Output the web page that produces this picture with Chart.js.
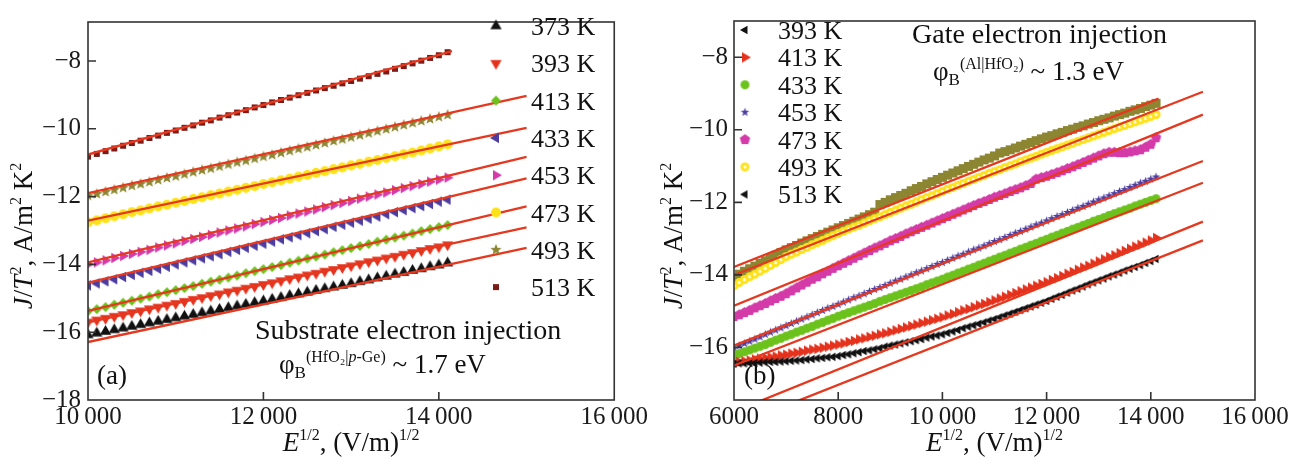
<!DOCTYPE html>
<html>
<head>
<meta charset="utf-8">
<script src="https://cdn.jsdelivr.net/npm/chart.js@4/dist/chart.umd.min.js"></script>
<style>
  body { margin: 0; background: #fff; }
  #wrap { position: relative; width: 1295px; height: 464px; }
  #chartA { position: absolute; left: 0; top: 0; }
  #chartB { position: absolute; left: 650px; top: 0; }
</style>
</head>
<body>
<div id="wrap">
  <canvas id="chartA" width="650" height="464"></canvas>
  <canvas id="chartB" width="645" height="464"></canvas>
</div>
<script>
// ---- (a) substrate injection: E^1/2 grid and ln(J/T^2) per temperature ----
const xA = [10000,10100,10200,10300,10400,10500,10600,10700,10800,10900,11000,11100,11200,11300,11400,11500,11600,11700,11800,11900,12000,12100,12200,12300,12400,12500,12600,12700,12800,12900,13000,13100,13200,13300,13400,13500,13600,13700,13800,13900,14000,14100];

const a373 = [-16.08,-16.03,-15.98,-15.93,-15.88,-15.83,-15.78,-15.73,-15.68,-15.63,-15.58,-15.53,-15.48,-15.43,-15.38,-15.33,-15.28,-15.23,-15.18,-15.13,-15.08,-15.03,-14.98,-14.92,-14.87,-14.82,-14.77,-14.72,-14.67,-14.62,-14.57,-14.51,-14.46,-14.40,-14.35,-14.29,-14.24,-14.18,-14.13,-14.07,-14.02,-13.96];
const a393 = [-15.70,-15.64,-15.59,-15.53,-15.48,-15.42,-15.37,-15.31,-15.26,-15.20,-15.15,-15.09,-15.03,-14.98,-14.92,-14.87,-14.81,-14.76,-14.70,-14.65,-14.59,-14.54,-14.48,-14.42,-14.37,-14.31,-14.26,-14.20,-14.15,-14.09,-14.04,-13.98,-13.92,-13.87,-13.81,-13.76,-13.70,-13.65,-13.59,-13.53,-13.48,-13.42];
const a413 = [-15.38,-15.32,-15.26,-15.19,-15.13,-15.07,-15.01,-14.95,-14.88,-14.82,-14.76,-14.70,-14.64,-14.57,-14.51,-14.45,-14.39,-14.33,-14.26,-14.20,-14.14,-14.08,-14.02,-13.95,-13.89,-13.83,-13.77,-13.71,-13.64,-13.58,-13.52,-13.46,-13.40,-13.33,-13.27,-13.21,-13.15,-13.09,-13.02,-12.96,-12.90,-12.84];
const a433 = [-14.62,-14.56,-14.50,-14.44,-14.37,-14.31,-14.25,-14.19,-14.13,-14.07,-14.00,-13.94,-13.88,-13.82,-13.76,-13.70,-13.63,-13.57,-13.51,-13.45,-13.39,-13.33,-13.26,-13.20,-13.14,-13.08,-13.02,-12.96,-12.89,-12.83,-12.77,-12.71,-12.65,-12.59,-12.52,-12.46,-12.40,-12.34,-12.28,-12.22,-12.15,-12.09];
const a453 = [-14.00,-13.94,-13.88,-13.81,-13.75,-13.69,-13.63,-13.57,-13.50,-13.44,-13.38,-13.31,-13.25,-13.19,-13.13,-13.06,-13.00,-12.94,-12.88,-12.81,-12.75,-12.69,-12.63,-12.56,-12.50,-12.44,-12.38,-12.31,-12.25,-12.19,-12.13,-12.06,-12.00,-11.94,-11.88,-11.81,-11.75,-11.69,-11.63,-11.56,-11.50,-11.44];
const a473 = [-12.76,-12.70,-12.64,-12.58,-12.52,-12.46,-12.41,-12.35,-12.29,-12.24,-12.18,-12.13,-12.07,-12.02,-11.96,-11.91,-11.85,-11.80,-11.74,-11.69,-11.63,-11.58,-11.52,-11.47,-11.41,-11.36,-11.30,-11.25,-11.19,-11.14,-11.08,-11.03,-10.97,-10.92,-10.86,-10.81,-10.75,-10.70,-10.64,-10.58,-10.52,-10.46];
const a493 = [-11.97,-11.92,-11.86,-11.80,-11.74,-11.68,-11.63,-11.57,-11.51,-11.45,-11.40,-11.34,-11.28,-11.22,-11.17,-11.11,-11.05,-10.99,-10.94,-10.88,-10.82,-10.77,-10.71,-10.65,-10.59,-10.54,-10.48,-10.42,-10.36,-10.31,-10.25,-10.19,-10.13,-10.07,-10.01,-9.95,-9.89,-9.83,-9.77,-9.71,-9.65,-9.59];
const a513 = [-10.82,-10.74,-10.66,-10.58,-10.50,-10.42,-10.35,-10.27,-10.20,-10.12,-10.05,-9.97,-9.90,-9.82,-9.75,-9.67,-9.60,-9.52,-9.45,-9.37,-9.30,-9.22,-9.15,-9.08,-9.01,-8.94,-8.87,-8.80,-8.73,-8.66,-8.59,-8.52,-8.45,-8.38,-8.31,-8.23,-8.15,-8.07,-7.99,-7.91,-7.83,-7.74];

// linear fits (373 ... 513 K): start at x = 10000
const fitY0A = [-16.29,-15.71,-15.37,-14.54,-13.94,-12.71,-11.90,-10.76];
const fitX1A = [15000,15000,15000,15000,15000,15000,15000,14150];
const fitY1A = [-13.51,-12.91,-12.29,-11.46,-10.83,-9.97,-9.03,-7.71];

const tempsA = ['373 K','393 K','413 K','433 K','453 K','473 K','493 K','513 K'];
const xTicksA = [10000, 12000, 14000, 16000];
const yTicksA = [-18, -16, -14, -12, -10, -8];

// ---- (b) gate injection ----
const xB = [6000,6100,6200,6300,6400,6500,6600,6700,6800,6900,7000,7100,7200,7300,7400,7500,7600,7700,7800,7900,8000,8100,8200,8300,8400,8500,8600,8700,8800,8900,9000,9100,9200,9300,9400,9500,9600,9700,9800,9900,10000,10100,10200,10300,10400,10500,10600,10700,10800,10900,11000,11100,11200,11300,11400,11500,11600,11700,11800,11900,12000,12100,12200,12300,12400,12500,12600,12700,12800,12900,13000,13100,13200,13300,13400,13500,13600,13700,13800,13900,14000,14100];

const b393 = [-16.45,-16.44,-16.44,-16.43,-16.43,-16.42,-16.41,-16.40,-16.40,-16.39,-16.38,-16.37,-16.36,-16.35,-16.33,-16.32,-16.30,-16.29,-16.27,-16.26,-16.24,-16.21,-16.19,-16.16,-16.13,-16.10,-16.08,-16.05,-16.02,-15.98,-15.95,-15.92,-15.89,-15.86,-15.83,-15.80,-15.77,-15.73,-15.70,-15.67,-15.64,-15.60,-15.56,-15.52,-15.47,-15.43,-15.39,-15.35,-15.31,-15.26,-15.22,-15.17,-15.12,-15.07,-15.02,-14.97,-14.92,-14.87,-14.82,-14.77,-14.72,-14.66,-14.60,-14.55,-14.49,-14.43,-14.38,-14.32,-14.26,-14.21,-14.15,-14.10,-14.04,-13.99,-13.94,-13.88,-13.83,-13.78,-13.73,-13.67,-13.62,-13.56];
const b413 = [-16.42,-16.40,-16.38,-16.36,-16.33,-16.31,-16.29,-16.27,-16.25,-16.22,-16.20,-16.17,-16.15,-16.12,-16.09,-16.06,-16.04,-16.01,-15.98,-15.95,-15.92,-15.89,-15.85,-15.82,-15.78,-15.75,-15.71,-15.68,-15.64,-15.61,-15.57,-15.53,-15.49,-15.45,-15.41,-15.37,-15.33,-15.29,-15.25,-15.21,-15.17,-15.12,-15.08,-15.03,-14.98,-14.94,-14.89,-14.84,-14.80,-14.75,-14.70,-14.65,-14.60,-14.55,-14.50,-14.45,-14.40,-14.35,-14.30,-14.25,-14.20,-14.14,-14.09,-14.03,-13.97,-13.92,-13.86,-13.80,-13.75,-13.69,-13.63,-13.57,-13.51,-13.46,-13.40,-13.34,-13.28,-13.22,-13.17,-13.11,-13.05,-12.98];
const b433 = [-16.22,-16.17,-16.12,-16.07,-16.02,-15.97,-15.92,-15.86,-15.80,-15.75,-15.69,-15.64,-15.58,-15.53,-15.47,-15.42,-15.36,-15.31,-15.25,-15.20,-15.14,-15.09,-15.04,-14.99,-14.94,-14.89,-14.84,-14.79,-14.73,-14.68,-14.63,-14.58,-14.53,-14.48,-14.43,-14.38,-14.33,-14.27,-14.22,-14.17,-14.12,-14.06,-14.01,-13.95,-13.90,-13.84,-13.79,-13.73,-13.68,-13.62,-13.57,-13.51,-13.46,-13.40,-13.35,-13.29,-13.24,-13.18,-13.13,-13.07,-13.02,-12.96,-12.91,-12.85,-12.80,-12.74,-12.69,-12.63,-12.58,-12.52,-12.47,-12.42,-12.36,-12.31,-12.26,-12.21,-12.16,-12.10,-12.05,-12.00,-11.95,-11.90];
const b453 = [-16.02,-15.95,-15.89,-15.83,-15.77,-15.71,-15.64,-15.58,-15.52,-15.46,-15.40,-15.34,-15.28,-15.22,-15.16,-15.10,-15.04,-14.98,-14.92,-14.87,-14.81,-14.75,-14.69,-14.63,-14.58,-14.52,-14.46,-14.40,-14.35,-14.29,-14.23,-14.17,-14.12,-14.06,-14.00,-13.94,-13.89,-13.83,-13.77,-13.71,-13.66,-13.60,-13.54,-13.48,-13.43,-13.37,-13.31,-13.26,-13.20,-13.14,-13.08,-13.03,-12.97,-12.91,-12.85,-12.80,-12.74,-12.68,-12.62,-12.57,-12.51,-12.45,-12.39,-12.34,-12.28,-12.22,-12.16,-12.11,-12.05,-11.99,-11.93,-11.88,-11.82,-11.76,-11.70,-11.65,-11.59,-11.53,-11.47,-11.42,-11.36,-11.30];
const b473 = [-15.15,-15.10,-15.04,-14.98,-14.91,-14.85,-14.79,-14.72,-14.65,-14.59,-14.52,-14.44,-14.36,-14.28,-14.20,-14.12,-14.05,-13.97,-13.90,-13.82,-13.75,-13.68,-13.61,-13.54,-13.47,-13.40,-13.33,-13.26,-13.20,-13.13,-13.06,-13.00,-12.94,-12.87,-12.81,-12.75,-12.69,-12.63,-12.57,-12.51,-12.45,-12.39,-12.33,-12.27,-12.21,-12.15,-12.09,-12.03,-11.98,-11.92,-11.86,-11.81,-11.76,-11.70,-11.65,-11.60,-11.54,-11.48,-11.36,-11.32,-11.28,-11.23,-11.18,-11.13,-11.07,-11.02,-10.96,-10.90,-10.84,-10.78,-10.72,-10.66,-10.62,-10.62,-10.63,-10.63,-10.61,-10.58,-10.55,-10.48,-10.40,-10.22];
const b493 = [-14.30,-14.21,-14.13,-14.05,-13.98,-13.90,-13.82,-13.74,-13.66,-13.58,-13.50,-13.43,-13.37,-13.30,-13.24,-13.17,-13.11,-13.05,-12.98,-12.92,-12.86,-12.80,-12.74,-12.68,-12.63,-12.57,-12.51,-12.45,-12.40,-12.34,-12.28,-12.22,-12.16,-12.10,-12.05,-11.99,-11.93,-11.87,-11.82,-11.76,-11.70,-11.64,-11.59,-11.53,-11.48,-11.42,-11.37,-11.31,-11.26,-11.20,-11.15,-11.10,-11.04,-10.99,-10.94,-10.88,-10.83,-10.78,-10.73,-10.67,-10.62,-10.57,-10.52,-10.47,-10.42,-10.37,-10.32,-10.27,-10.22,-10.17,-10.12,-10.07,-10.02,-9.97,-9.92,-9.88,-9.83,-9.78,-9.73,-9.68,-9.63,-9.58];
const b513 = [-14.08,-13.98,-13.90,-13.83,-13.76,-13.68,-13.61,-13.53,-13.46,-13.38,-13.31,-13.25,-13.19,-13.12,-13.06,-13.00,-12.94,-12.88,-12.82,-12.76,-12.70,-12.64,-12.58,-12.52,-12.46,-12.40,-12.34,-12.27,-12.06,-12.00,-11.93,-11.87,-11.81,-11.75,-11.68,-11.62,-11.56,-11.49,-11.43,-11.37,-11.31,-11.25,-11.19,-11.13,-11.07,-11.01,-10.95,-10.89,-10.83,-10.78,-10.72,-10.64,-10.60,-10.55,-10.50,-10.45,-10.40,-10.35,-10.30,-10.25,-10.20,-10.16,-10.11,-10.07,-10.02,-9.98,-9.93,-9.89,-9.84,-9.80,-9.75,-9.71,-9.67,-9.62,-9.58,-9.54,-9.49,-9.45,-9.41,-9.36,-9.32,-9.27];

// linear fits (393 ... 513 K): start at x = 6000
const fitY0B = [-18.17,-17.77,-16.50,-15.95,-14.85,-14.00,-13.78];
const fitX1B = [15000,15000,15000,15000,15000,15000,14150];
const fitY1B = [-13.05,-12.53,-11.46,-10.86,-9.58,-8.95,-9.14];

const tempsB = ['393 K','413 K','433 K','453 K','473 K','493 K','513 K'];
const xTicksB = [6000, 8000, 10000, 12000, 14000, 16000];
const yTicksB = [-16, -14, -12, -10, -8];

// ---- drawing helpers ----
const FONT = "'Liberation Serif', 'Times New Roman', serif";
const FIT = '#e5381f';

function marker(shape, color, s) {
  const n = Math.ceil(s) + 4;
  const c = document.createElement('canvas');
  c.width = n; c.height = n;
  const g = c.getContext('2d');
  const m = n / 2, r = s / 2;
  g.fillStyle = color;
  g.beginPath();
  if (shape === 'circle' || shape === 'ring') {
    g.arc(m, m, r, 0, Math.PI * 2);
  } else if (shape === 'square') {
    g.rect(m - r, m - r, s, s);
  } else if (shape === 'diamond') {
    g.moveTo(m, m - r); g.lineTo(m + r, m); g.lineTo(m, m + r); g.lineTo(m - r, m);
  } else if (shape.startsWith('tri')) {
    const rot = {triUp: -90, triRight: 0, triDown: 90, triLeft: 180}[shape] * Math.PI / 180;
    for (let k = 0; k < 3; k++) {
      const t = rot + k * 2 * Math.PI / 3;
      g.lineTo(m + r * Math.cos(t), m + r * Math.sin(t));
    }
  } else {
    // star (10 vertices) or pentagon (5)
    const cnt = shape === 'star' ? 10 : 5;
    for (let k = 0; k < cnt; k++) {
      const t = -Math.PI / 2 + k * 2 * Math.PI / cnt;
      const rr = (shape === 'star' && k % 2) ? r * 0.42 : r;
      g.lineTo(m + rr * Math.cos(t), m + rr * Math.sin(t));
    }
  }
  g.closePath();
  g.fill();
  if (shape === 'ring') {
    g.fillStyle = '#fffbe0';
    g.beginPath(); g.arc(m, m, r * 0.38, 0, Math.PI * 2); g.fill();
  }
  return c;
}

function drawRich(ctx, x, y, parts, align) {
  const fnt = p => (p[2] ? 'italic ' : '') + p[1] + 'px ' + FONT;
  let w = 0;
  parts.forEach(p => { ctx.font = fnt(p); w += ctx.measureText(p[0]).width; });
  let cx = align === 'center' ? x - w / 2 : x;
  parts.forEach(p => {
    ctx.font = fnt(p);
    ctx.fillText(p[0], cx, y + (p[3] || 0));
    cx += ctx.measureText(p[0]).width;
  });
}

const yTitle = [['J',27,true],['/',27],['T',27,true],['2',16,false,-11],[', A/m',27],['2',16,false,-11],[' K',27],['2',16,false,-11]];
const xTitle = [['E',27,true],['1/2',16,false,-11],[', (V/m)',27],['1/2',16,false,-11]];

function fmtY(v) { return v < 0 ? '\u2212' + Math.abs(v) : String(v); }
function fmtX(v) { return v >= 10000 ? String(v).replace(/(\d+)(\d{3})$/, '$1\u2009$2') : String(v); }

function decor(cfg) {
  return {
    id: 'decor',
    afterDraw(chart) {
      const ctx = chart.ctx, a = chart.chartArea;
      const sx = chart.scales.x, sy = chart.scales.y;
      ctx.save();
      ctx.strokeStyle = '#333';
      ctx.lineWidth = 1.6;
      ctx.strokeRect(a.left, a.top, a.right - a.left, a.bottom - a.top);
      // inward tick marks
      ctx.beginPath();
      cfg.xTicks.forEach(v => {
        const p = sx.getPixelForValue(v);
        if (p > a.left + 2 && p < a.right - 2) { ctx.moveTo(p, a.bottom); ctx.lineTo(p, a.bottom - 8); }
      });
      cfg.yTicks.forEach(v => {
        const p = sy.getPixelForValue(v);
        if (p > a.top + 2 && p < a.bottom - 2) { ctx.moveTo(a.left, p); ctx.lineTo(a.left + 8, p); }
      });
      ctx.stroke();
      // legend
      ctx.fillStyle = '#111';
      ctx.textBaseline = 'alphabetic';
      ctx.font = '26px ' + FONT;
      cfg.legend.labels.forEach((t, i) => {
        const y = cfg.legend.y0 + i * cfg.legend.dy;
        const img = cfg.legend.marks[i];
        ctx.drawImage(img, cfg.legend.mx - img.width / 2, y - img.height / 2);
        ctx.fillText(t, cfg.legend.tx, y + 9);
      });
      // notes and axis titles
      cfg.notes.forEach(n => drawRich(ctx, n.x, n.y, n.parts, n.align));
      drawRich(ctx, (a.left + a.right) / 2, 451, xTitle, 'center');
      ctx.translate(cfg.yTitleX, 236);
      ctx.rotate(-Math.PI / 2);
      drawRich(ctx, 0, 0, yTitle, 'center');
      ctx.restore();
    }
  };
}

function build(id, p) {
  const datasets = [];
  p.fitY0.forEach((y0, i) => {
    datasets.push({
      data: [{x: p.xMin, y: y0}, {x: p.fitX1[i], y: p.fitY1[i]}],
      showLine: true, borderColor: FIT, borderWidth: 2.3, pointRadius: 0, order: 0
    });
  });
  p.series.forEach((ys, i) => {
    datasets.push({
      data: p.xs.map((x, k) => ({x, y: ys[k]})),
      pointStyle: p.marks[i], pointRadius: 4, order: 1
    });
  });
  return new Chart(document.getElementById(id), {
    type: 'scatter',
    data: {datasets},
    options: {
      responsive: false, animation: false, devicePixelRatio: 1,
      layout: {padding: p.pad},
      plugins: {legend: {display: false}, tooltip: {enabled: false}},
      scales: {
        x: {
          min: p.xMin, max: p.xMax,
          afterBuildTicks: s => { s.ticks = p.xTicks.map(v => ({value: v})); },
          afterFit: s => { s.height = 64; },
          grid: {display: false, drawTicks: false}, border: {display: false},
          ticks: {autoSkip: false, maxRotation: 0, padding: 2, color: '#1a1a1a',
                  font: {family: FONT, size: 25}, callback: v => fmtX(v)}
        },
        y: {
          min: p.yMin, max: p.yMax,
          afterBuildTicks: s => { s.ticks = p.yTicks.map(v => ({value: v})); },
          afterFit: s => { s.width = p.yWidth; },
          grid: {display: false, drawTicks: false}, border: {display: false},
          ticks: {padding: p.yPad, color: '#1a1a1a', font: {family: FONT, size: 25}, callback: v => fmtY(v)}
        }
      }
    },
    plugins: [decor(p.decor)]
  });
}

// marker sets
const marksA = [
  marker('triUp', '#111111', 13),
  marker('triDown', '#e4321d', 13),
  marker('diamond', '#6cc21c', 10),
  marker('triLeft', '#4d3d9f', 12),
  marker('triRight', '#d43aa8', 12),
  marker('circle', '#fde21a', 10),
  marker('star', '#8c8632', 12),
  marker('square', '#7a1c17', 6)
];
const marksB = [
  marker('triLeft', '#111111', 10),
  marker('triRight', '#e4321d', 12),
  marker('circle', '#6cc21c', 9),
  marker('star', '#4d3d9f', 9),
  marker('pentagon', '#d43aa8', 11),
  marker('ring', '#fde21a', 9),
  marker('square', '#8c8632', 9)
];
const legendMarksB = marksB.slice(0, 6).concat([marksB[0]]);

build('chartA', {
  xs: xA, series: [a373, a393, a413, a433, a453, a473, a493, a513], marks: marksA,
  fitY0: fitY0A, fitX1: fitX1A, fitY1: fitY1A,
  xMin: 10000, xMax: 16000, yMin: -18, yMax: -6.85, xTicks: xTicksA, yTicks: yTicksA,
  pad: {left: 0, right: 33, top: 10, bottom: 0}, yWidth: 88, yPad: 7,
  decor: {
    xTicks: xTicksA, yTicks: yTicksA, yTitleX: 32,
    legend: {labels: tempsA, marks: marksA, mx: 496, tx: 531, y0: 26, dy: 37.3},
    notes: [
      {x: 255, y: 339, parts: [['Substrate electron injection', 28]]},
      {x: 279, y: 373, parts: [['\u03c6', 27], ['B', 17, false, 5], ['(HfO\u2082|', 16, false, -11], ['p', 16, true, -11], ['-Ge)', 16, false, -11], [' ~ 1.7 eV', 27]]},
      {x: 97, y: 384, parts: [['(a)', 27]]}
    ]
  }
});

build('chartB', {
  xs: xB, series: [b393, b413, b433, b453, b473, b493, b513], marks: marksB,
  fitY0: fitY0B, fitX1: fitX1B, fitY1: fitY1B,
  xMin: 6000, xMax: 16000, yMin: -17.45, yMax: -7.0, xTicks: xTicksB, yTicks: yTicksB,
  pad: {left: 0, right: 40, top: 15, bottom: 0}, yWidth: 84, yPad: 6,
  decor: {
    xTicks: xTicksB, yTicks: yTicksB, yTitleX: 682 - 650,
    legend: {labels: tempsB, marks: legendMarksB, mx: 95, tx: 128, y0: 30, dy: 27.4},
    notes: [
      {x: 262, y: 43, parts: [['Gate electron injection', 28]]},
      {x: 283, y: 80, parts: [['\u03c6', 27], ['B', 17, false, 5], ['(Al|HfO\u2082)', 16, false, -11], [' ~ 1.3 eV', 27]]},
      {x: 94, y: 384, parts: [['(b)', 27]]}
    ]
  }
});
</script>
</body>
</html>
